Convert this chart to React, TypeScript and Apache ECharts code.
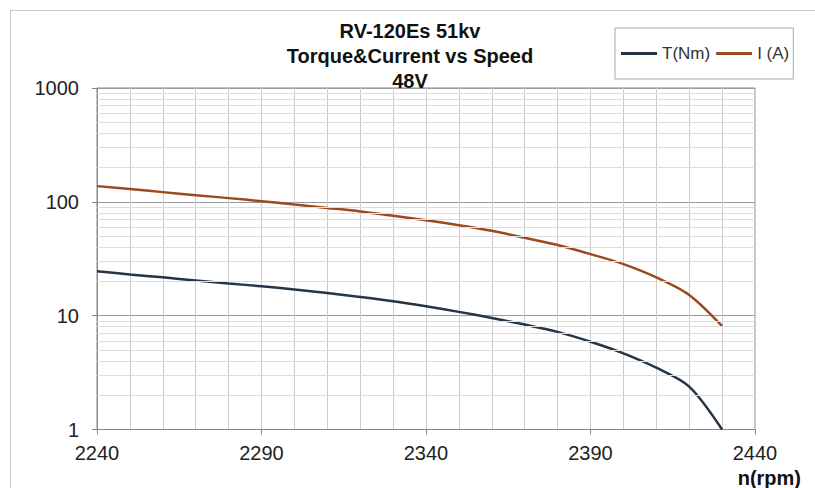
import React, { useEffect, useRef } from "react";
import * as echarts from "echarts";

const titleLines = ["RV-120Es 51kv", "Torque&Current vs Speed", "48V"];
const speed = [2240, 2250, 2260, 2270, 2280, 2290, 2300, 2310, 2320, 2330, 2340, 2350, 2360, 2370, 2380, 2390, 2400, 2410, 2420, 2430];
const torque = [24.6, 23.0, 21.7, 20.4, 19.2, 18.1, 17.0, 15.8, 14.6, 13.4, 12.1, 10.8, 9.55, 8.35, 7.2, 5.9, 4.67, 3.49, 2.38, 1.0];
const current = [137.4, 129.4, 121.7, 114.5, 107.8, 101.4, 94.8, 88.4, 82.3, 75.4, 69.0, 62.4, 55.6, 48.3, 41.7, 34.7, 28.4, 21.7, 15.2, 8.1];
const seriesNames = ["T(Nm)", "I (A)"];
const minorLogLines = [2, 3, 4, 5, 6, 7, 8, 9, 20, 30, 40, 50, 60, 70, 80, 90, 200, 300, 400, 500, 600, 700, 800, 900];
const xAxisName = "n(rpm)";

const FONT = "'Liberation Sans', Arial, Helvetica, sans-serif";

export default function App() {
  const ref = useRef<HTMLDivElement>(null);
  useEffect(() => {
    if (!ref.current) return;
    const chart = echarts.init(ref.current, undefined, { renderer: "svg" });
    chart.setOption({
      animation: false,
      backgroundColor: "#ffffff",
      title: {
        text: titleLines.join("\n"),
        left: 410,
        textAlign: "center",
        top: 18,
        padding: 0,
        textStyle: {
          fontFamily: FONT,
          fontWeight: "bold",
          fontSize: 20,
          lineHeight: 25,
          color: "#111111",
        },
      },
      legend: {
        data: seriesNames,
        left: 615,
        top: 28,
        orient: "horizontal",
        icon: "rect",
        itemWidth: 36,
        itemHeight: 3,
        itemGap: 6,
        padding: [17, 4, 17, 6],
        borderColor: "#a8a8a8",
        borderWidth: 1,
        textStyle: { fontFamily: FONT, fontSize: 17, color: "#333333" },
      },
      graphic: [
        {
          type: "rect",
          shape: { x: 10.5, y: 10.5, width: 900, height: 600 },
          style: { fill: "none", stroke: "#c8c8c8", lineWidth: 1 },
          silent: true,
          z: -10,
        },
        {
          type: "text",
          x: 801,
          y: 478,
          style: {
            text: xAxisName,
            align: "right",
            verticalAlign: "middle",
            font: `bold 20px ${FONT}`,
            fill: "#111111",
          },
        },
      ],
      grid: {
        left: 97,
        top: 88,
        right: 60,
        bottom: 58.5,
        show: true,
        borderColor: "#888888",
        borderWidth: 1,
        containLabel: false,
      },
      xAxis: {
        type: "value",
        min: 2240,
        max: 2440,
        interval: 50,
        axisLine: { show: true, lineStyle: { color: "#888888", width: 1 } },
        axisTick: { show: true, inside: false, length: 5, lineStyle: { color: "#888888" } },
        axisLabel: {
          margin: 13,
          fontFamily: FONT,
          fontSize: 20,
          color: "#222222",
          formatter: (v: number) => String(v),
        },
        splitLine: { show: true, lineStyle: { color: "#cccccc", width: 1 } },
        minorTick: { show: false, splitNumber: 5 },
        minorSplitLine: { show: true, lineStyle: { color: "#cccccc", width: 1 } },
      },
      yAxis: {
        type: "log",
        logBase: 10,
        min: 1,
        max: 1000,
        axisLine: { show: true, lineStyle: { color: "#888888", width: 1 } },
        axisTick: { show: true, inside: false, length: 5, lineStyle: { color: "#888888" } },
        axisLabel: {
          margin: 18,
          fontFamily: FONT,
          fontSize: 20,
          color: "#222222",
          formatter: (v: number) => String(Math.round(v)),
        },
        splitLine: { show: true, lineStyle: { color: "#999999", width: 1 } },
        minorSplitLine: { show: false },
      },
      series: [
        {
          name: "grid-minor",
          type: "line",
          data: [],
          silent: true,
          z: 0,
          markLine: {
            silent: true,
            symbol: ["none", "none"],
            label: { show: false },
            lineStyle: { color: "#dddddd", type: "solid", width: 1 },
            data: minorLogLines.map((v) => ({ yAxis: v })),
          },
        },
        {
          name: seriesNames[0],
          type: "line",
          data: speed.map((s, i) => [s, torque[i]]),
          showSymbol: false,
          symbol: "none",
          smooth: 0.3,
          z: 3,
          lineStyle: { color: "#253545", width: 2.5 },
          itemStyle: { color: "#253545" },
        },
        {
          name: seriesNames[1],
          type: "line",
          data: speed.map((s, i) => [s, current[i]]),
          showSymbol: false,
          symbol: "none",
          smooth: 0.3,
          z: 3,
          lineStyle: { color: "#9a4a1c", width: 2.5 },
          itemStyle: { color: "#9a4a1c" },
        },
      ],
    });
    return () => chart.dispose();
  }, []);
  return (
    <div
      ref={ref}
      style={{ position: "absolute", left: 0, top: 0, width: 815, height: 488 }}
    />
  );
}
